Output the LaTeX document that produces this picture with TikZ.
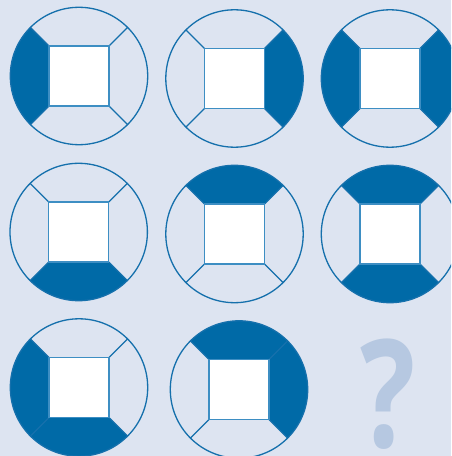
\documentclass[tikz,border=0pt]{standalone}
\usepackage{fontspec}
\setmainfont{Open Sans}
\definecolor{bg}{HTML}{DDE4F1}
\definecolor{dark}{HTML}{006AA7}
\definecolor{edge}{HTML}{1570AC}
\definecolor{sqedge}{HTML}{3D8EC3}
\definecolor{qm}{HTML}{B6C8E1}
\tikzset{
  sector/.style={fill=dark},
  ring/.style={draw=edge, line width=1.3pt},
  spoke/.style={draw=edge, line width=1.2pt},
  window/.style={fill=white, draw=sqedge, line width=1.4pt},
  qmark/.style={text=qm, inner sep=0pt, font=\bfseries\fontsize{150}{150}\selectfont},
}
\newcommand\ringR{68.7}
\newcommand\tile[3]{%
  \begin{scope}[shift={(#1,#2)}]
    \foreach \a in {#3} {\fill[sector] (\a:42.43) -- (\a:\ringR) arc[start angle=\a, end angle=\a+90, radius=\ringR] -- (\a+90:42.43) -- cycle;}
    \draw[ring] (0,0) circle[radius=\ringR];
    \foreach \a in {45,135,225,315} {\draw[spoke] (\a:42.43) -- (\a:\ringR);}
    \draw[window] (-30,-30) rectangle (30,30);
  \end{scope}}
\begin{document}
\begin{tikzpicture}[x=1pt,y=1pt]
  \fill[bg] (0,0) rectangle (451,456);
  \useasboundingbox (0,0) rectangle (451,456);
  \clip (0,0) rectangle (451,456);
  \tile{79}{380}{135}
  \tile{234.5}{377.5}{315}
  \tile{390}{377.5}{135,315}
  \tile{78.7}{224}{225}
  \tile{234.5}{222}{45}
  \tile{390}{222}{45,225}
  \tile{79}{68.5}{135,225}
  \tile{239}{66.5}{45,315}
  \node[qmark] (q) at (388.5,62) {\scalebox{0.77}[1]{?}};
\end{tikzpicture}
\end{document}
